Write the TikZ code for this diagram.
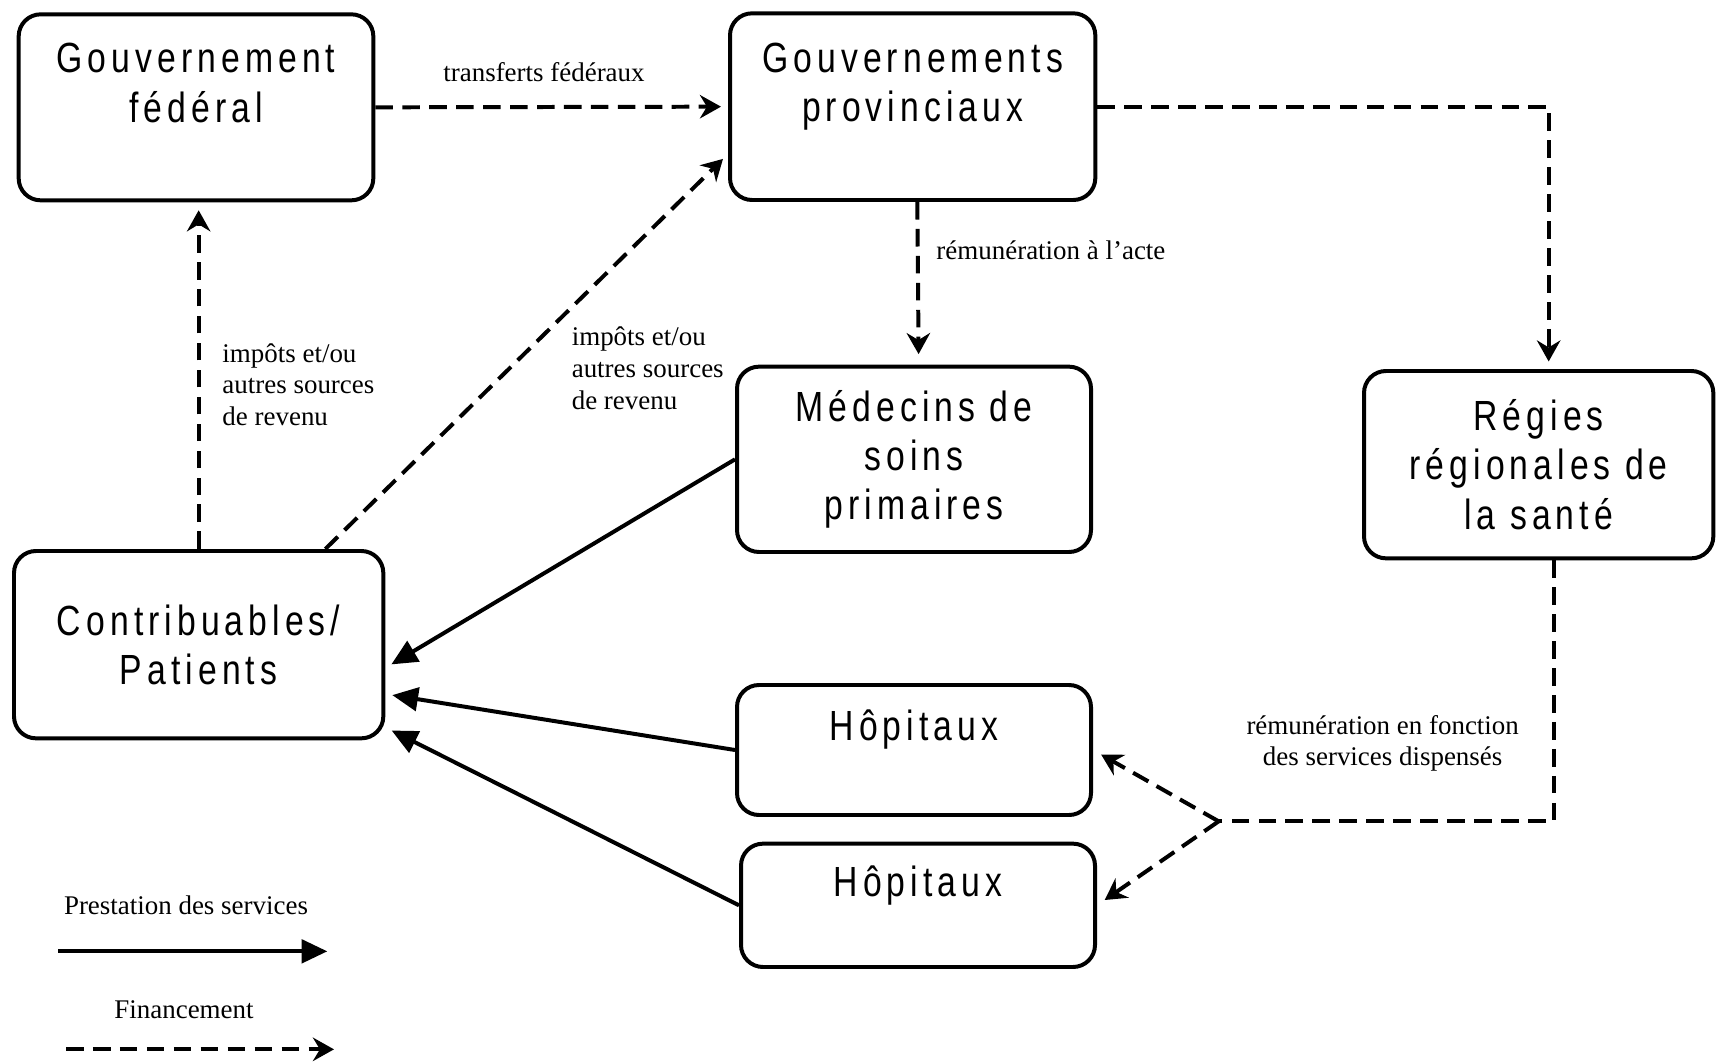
\documentclass[tikz,border=0pt]{standalone}
\usepackage{fontspec}
\usepackage{tikz}
\usetikzlibrary{arrows.meta, positioning}

\newfontfamily\boxfont[FakeStretch=0.8,LetterSpace=12]{Liberation Sans}
\newfontfamily\notefont{Liberation Serif}

\begin{document}
\begin{tikzpicture}[
    entity/.style={rectangle, rounded corners=0.33cm, draw=black, line width=1.7pt, inner sep=0pt, font=\boxfont\fontsize{18}{21}\selectfont, align=center},
    note/.style={inner sep=0pt, font=\notefont\fontsize{11.5}{13.6}\selectfont},
    service/.style={line width=1.7pt, -{Triangle[length=11pt,width=10pt]}},
    dashline/.style={line width=1.7pt, dash pattern=on 7.5pt off 4pt},
    fund/.style={dashline, -{Stealth[length=9pt,width=10pt,inset=3pt]}}
]
\useasboundingbox (0,0) rectangle (25.755,-15.945);

% Nodes
\node[entity, minimum width=5.32cm, minimum height=2.79cm] (fed) at (2.94,-1.61) {Gouvernement\\fédéral\\\mbox{}};
\node[entity, minimum width=5.48cm, minimum height=2.80cm] (prov) at (13.69,-1.60) {Gouvernements\\provinciaux\\\mbox{}};
\node[entity, minimum width=5.31cm, minimum height=2.78cm] (med) at (13.71,-6.89) {Médecins de\\soins\\primaires};
\node[entity, minimum width=5.24cm, minimum height=2.81cm] (regies) at (23.08,-6.97) {Régies\\régionales de\\la santé};
\node[entity, minimum width=5.54cm, minimum height=2.81cm] (contrib) at (2.98,-9.67) {Contribuables/\\Patients};
\node[entity, minimum width=5.31cm, minimum height=1.95cm] (hop1) at (13.71,-11.25) {Hôpitaux\\\mbox{}};
\node[entity, minimum width=5.31cm, minimum height=1.85cm] (hop2) at (13.77,-13.58) {Hôpitaux\\\mbox{}};
\coordinate (split) at (18.28,-12.32);

% Labels
\node[note] (transfer) at (8.16,-1.08) {transferts fédéraux};
\node[note, anchor=west, align=left] (taxfed) at (3.33,-5.77) {impôts et/ou\\autres sources\\de revenu};
\node[note, anchor=west, align=left] (taxprov) at (8.57,-5.52) {impôts et/ou\\autres sources\\de revenu};
\node[note, anchor=west] (fee) at (14.04,-3.76) {rémunération à l’acte};
\node[note, align=center] (pay) at (20.74,-11.15) {rémunération en fonction\\des services dispensés};

% Funding
\draw[fund, shorten >=3pt] (fed.east) -- (prov.west);
\draw[fund, shorten >=3.4pt] (contrib.north) -- (contrib.north |- fed.south);
\draw[fund, shorten >=3pt] ([xshift=1.9cm]contrib.north) -- ([yshift=-0.71cm]prov.west);
\draw[fund, shorten >=4.5pt] ([xshift=0.07cm]prov.south) -- ([xshift=0.07cm]med.north);
\draw[fund, shorten >=3.2pt] (prov.east) -| ([xshift=0.15cm]regies.north);
\draw[dashline] ([xshift=0.23cm]regies.south) |- (split);
\draw[fund, shorten >=4pt] (split) -- (hop1.east);
\draw[fund, shorten >=4pt] (split) -- (hop2.east);

% Services
\draw[service, shorten >=3pt] (med.west) -- ([yshift=-0.35cm]contrib.east);
\draw[service, shorten >=3pt] (hop1.west) -- ([yshift=-0.74cm]contrib.east);
\draw[service, shorten >=3pt] (hop2.west) -- ([yshift=-1.24cm]contrib.east);

% Legend
\node[note] (legserv) at (2.79,-13.58) {Prestation des services};
\node[note] (legfund) at (2.76,-15.14) {Financement};
\coordinate (servA) at (0.87,-14.27);
\coordinate (servB) at (4.91,-14.27);
\coordinate (fundA) at (0.99,-15.74);
\coordinate (fundB) at (5.01,-15.74);
\draw[service] (servA) -- (servB);
\draw[fund] (fundA) -- (fundB);

\end{tikzpicture}
\end{document}
